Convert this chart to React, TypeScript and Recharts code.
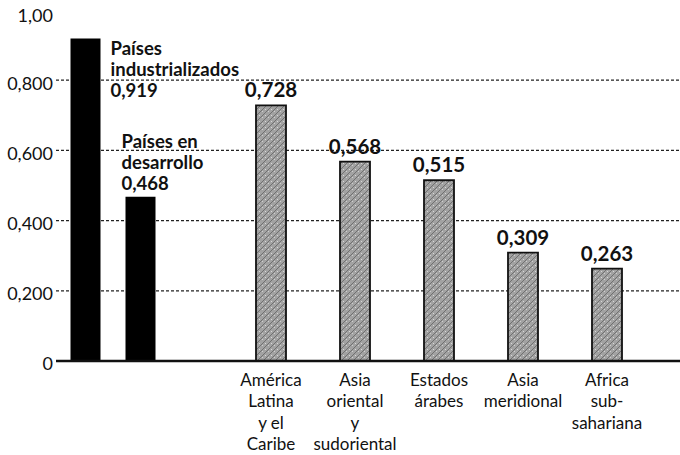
import { BarChart, Bar, XAxis, YAxis, CartesianGrid, LabelList } from "recharts";

const groupNames = ["Países\nindustrializados", "Países en\ndesarrollo"];
const groupValues = [0.919, 0.468];
const regionNames = [
  "América\nLatina\ny el\nCaribe",
  "Asia\noriental\ny\nsudoriental",
  "Estados\nárabes",
  "Asia\nmeridional",
  "Africa\nsub-\nsahariana",
];
const regionValues = [0.728, 0.568, 0.515, 0.309, 0.263];
const yTicks = [0, 0.2, 0.4, 0.6, 0.8, 1];
const gridValues = [0.2, 0.4, 0.6, 0.8];

const data = [
  ...groupNames.map((name, i) => ({ name, group: groupValues[i] })),
  ...regionNames.map((name, i) => ({ name, region: regionValues[i] })),
];

const FONT = "Lato, 'Open Sans', sans-serif";
const INK = "#111";

function fmt(v: number, digits = 3) {
  return v.toFixed(digits).replace(".", ",");
}

function YTick({ x, y, payload }: any) {
  const v = payload.value;
  const label = v === 0 ? "0" : v === 1 ? fmt(v, 2) : fmt(v);
  return (
    <text x={x} y={y + (v === 1 ? 6 : 3)} dy="0.355em" textAnchor="end" fontFamily={FONT} fontSize={18} fill={INK}>
      {label}
    </text>
  );
}

function RegionTick({ x, y, payload }: any) {
  if (!regionNames.includes(payload.value)) return <g />;
  const lines = String(payload.value).split("\n");
  return (
    <text textAnchor="middle" fontFamily={FONT} fontSize={17} fill={INK}>
      {lines.map((l, i) => (
        <tspan key={i} x={x} y={y + 25 + i * 21.3}>
          {l}
        </tspan>
      ))}
    </text>
  );
}

function GroupLabel(props: any) {
  const { x, y, width, index, value } = props;
  if (typeof value !== "number" || isNaN(value)) return null;
  const lines = [...groupNames[index].split("\n"), fmt(value)];
  // first group: text beside the bar, second: stacked above it
  const tx = index === 0 ? x + width + 10 : x - 4;
  const ty = index === 0 ? y + 17 : y - 7 - (lines.length - 1) * 21;
  return (
    <text fontFamily={FONT} fontSize={18.5} fontWeight={700} fill={INK}>
      {lines.map((l, i) => (
        <tspan key={i} x={tx} y={ty + i * 21}>
          {l}
        </tspan>
      ))}
    </text>
  );
}

function RegionLabel(props: any) {
  const { x, y, width, value } = props;
  if (typeof value !== "number" || isNaN(value)) return null;
  return (
    <text x={x + width / 2} y={y - 8} textAnchor="middle" fontFamily={FONT} fontSize={20.5} fontWeight={700} fill={INK}>
      {fmt(value)}
    </text>
  );
}

export default function App() {
  return (
    <div style={{ width: 680, height: 455, background: "#fff" }}>
      <style>{"body{margin:0}"}</style>
      <svg width={0} height={0} style={{ position: "absolute" }}>
        <defs>
          <pattern id="grain" width={6} height={6} patternUnits="userSpaceOnUse">
            <rect width={6} height={6} fill="#a2a2a2" />
            <path d="M0,6 L6,0 M-1,1 L1,-1 M5,7 L7,5" stroke="#707070" strokeWidth={1} />
            <rect x={1} y={1} width={1} height={1} fill="#d8d8d8" />
            <rect x={4} y={3} width={1} height={1} fill="#cfcfcf" />
          </pattern>
        </defs>
      </svg>
      <BarChart width={680} height={455} data={data} margin={{ top: 10, right: 0, bottom: 0, left: 0 }}>
        <CartesianGrid
          xAxisId="b"
          vertical={false}
          horizontalValues={gridValues}
          stroke="#222"
          strokeDasharray="3 2"
          strokeWidth={1.2}
        />
        <XAxis xAxisId="a" dataKey="name" hide height={0} padding={{ left: 1.5, right: 237.5 }} />
        <XAxis
          xAxisId="b"
          dataKey="name"
          height={94}
          interval={0}
          padding={{ left: 5, right: 31 }}
          tickLine={false}
          tickSize={0}
          tickMargin={0}
          axisLine={{ stroke: INK, strokeWidth: 2.5 }}
          tick={<RegionTick />}
        />
        <YAxis
          width={56}
          domain={[0, 1]}
          ticks={yTicks}
          interval={0}
          axisLine={false}
          tickLine={false}
          tickSize={0}
          tickMargin={3}
          tick={<YTick />}
        />
        <Bar xAxisId="a" dataKey="group" barSize={30} fill="#000" isAnimationActive={false}>
          <LabelList dataKey="group" content={GroupLabel} />
        </Bar>
        <Bar xAxisId="b" dataKey="region" barSize={30} fill="url(#grain)" stroke={INK} strokeWidth={1.8} isAnimationActive={false}>
          <LabelList dataKey="region" content={RegionLabel} />
        </Bar>
      </BarChart>
    </div>
  );
}
